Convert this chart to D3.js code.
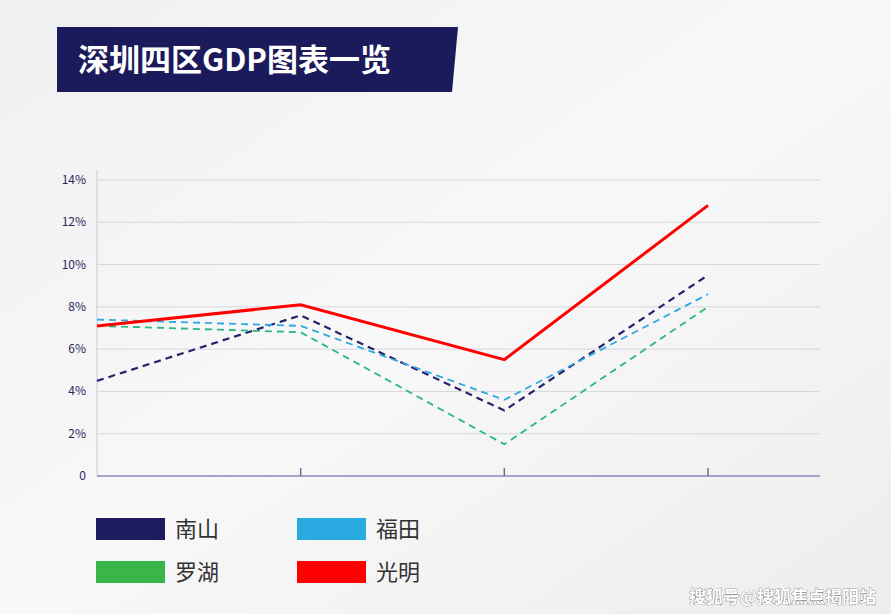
<!DOCTYPE html><html><head><meta charset="utf-8"><script src="https://cdn.jsdelivr.net/npm/d3@7"></script>
<style>body{margin:0;background:#f3f3f4;font-family:"Noto Sans CJK SC","Noto Sans",sans-serif}</style></head><body>
<svg id="c" width="891" height="614"></svg>
<script>
const categories=["A","B","C","D"];
const series=["南山","福田","罗湖","光明"];
const nanshan=[4.5,7.6,3.1,9.5];
const futian=[7.4,7.1,3.6,8.6];
const luohu=[7.1,6.8,1.5,8.0];
const guangming=[7.1,8.1,5.5,12.8];
const yTicks=[0,2,4,6,8,10,12,14];
const values=[nanshan,futian,luohu,guangming];
const lineColors=["#26236a","#2fa8e0","#2cb87a","#ff0000"];
const legendColors=["#1e1b5e","#29abe2","#39b54a","#ff0000"];
const svg=d3.select("#c");
const defs=svg.append("defs");
const g=defs.append("linearGradient").attr("id","bg").attr("x1",0).attr("y1",0).attr("x2",1).attr("y2",1);
g.append("stop").attr("offset",0).attr("stop-color","#f0f0f2");
g.append("stop").attr("offset",0.5).attr("stop-color","#f8f8f9");
g.append("stop").attr("offset",1).attr("stop-color","#ededee");
svg.append("rect").attr("width",891).attr("height",614).attr("fill","url(#bg)");
// title
svg.append("path").attr("d","M57,27 H458 L452,92 H57 Z").attr("fill","#1b1a5a");
svg.append("text").attr("x",78).attr("y",71).attr("fill","#fff").attr("font-size",31).attr("font-weight",700).text("深圳四区GDP图表一览");
const x=d3.scalePoint().domain(categories).range([97,708]);
const y=d3.scaleLinear().domain([0,14]).range([476,180]);
svg.append("g").selectAll("line").data(yTicks.slice(1)).join("line")
 .attr("x1",97).attr("x2",820).attr("y1",d=>y(d)).attr("y2",d=>y(d)).attr("stroke","#d6d6dc");
svg.append("line").attr("x1",97).attr("x2",97).attr("y1",170).attr("y2",476).attr("stroke","#c9c9d6");
svg.append("line").attr("x1",97).attr("x2",820).attr("y1",476).attr("y2",476).attr("stroke","#8a88b8").attr("stroke-width",1.5);
svg.append("g").selectAll("line").data(categories.slice(1)).join("line")
 .attr("x1",d=>x(d)).attr("x2",d=>x(d)).attr("y1",468).attr("y2",476).attr("stroke","#6c6aa0").attr("stroke-width",1.5);
svg.append("g").selectAll("text").data(yTicks).join("text")
 .attr("x",86).attr("y",d=>y(d)+4).attr("text-anchor","end").attr("font-size",12).attr("fill","#2a2860")
 .text(d=>d===0?"0":d+"%");
const line=d3.line().x((d,i)=>x(categories[i])).y(d=>y(d));
values.forEach((v,i)=>{
 svg.append("path").attr("d",line(v)).attr("fill","none").attr("stroke",lineColors[i])
  .attr("stroke-width",i===3?3:i===0?2.2:1.8).attr("stroke-dasharray",i===3?null:"7,5");
});
const lp=[[96,518],[297,518],[96,561],[297,561]];
series.forEach((s,i)=>{
 svg.append("rect").attr("x",lp[i][0]).attr("y",lp[i][1]).attr("width",69).attr("height",22).attr("fill",legendColors[i]);
 svg.append("text").attr("x",lp[i][0]+79).attr("y",lp[i][1]+19).attr("font-size",22).attr("fill","#333").text(s);
});
svg.append("text").attr("x",876).attr("y",603).attr("text-anchor","end").attr("font-size",17).attr("font-weight",700)
 .attr("fill","#fff").attr("stroke","#555").attr("stroke-width",0.6).attr("paint-order","stroke").text("搜狐号@搜狐焦点揭阳站");
</script></body></html>
